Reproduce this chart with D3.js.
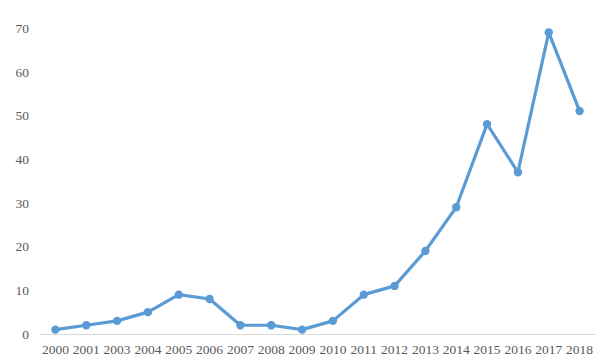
<!DOCTYPE html>
<html>
<head>
<meta charset="utf-8">
<script src="https://cdn.jsdelivr.net/npm/d3@7"></script>
<style>
  body { margin: 0; background: #fff; }
</style>
</head>
<body>
<div class="chart"></div>
<script>
// data (note: no 2002)
const years = ["2000","2001","2003","2004","2005","2006","2007","2008","2009","2010","2011","2012","2013","2014","2015","2016","2017","2018"];
const counts = [1, 2, 3, 5, 9, 8, 2, 2, 1, 3, 9, 11, 19, 29, 48, 37, 69, 51];
const yTicks = [0, 10, 20, 30, 40, 50, 60, 70];

const margin = {top: 28, right: 9, bottom: 28, left: 40};
const width = 604 - margin.left - margin.right,
      height = 362 - margin.top - margin.bottom;

const svg = d3.select(".chart").append("svg")
    .attr("width", 604)
    .attr("height", 362)
  .append("g")
    .attr("transform", "translate(" + margin.left + "," + margin.top + ")");

const xScale = d3.scaleBand().domain(years).range([0, width]);
const yScale = d3.scaleLinear().domain([0, 70]).range([height, 0]);

const serif = "'Liberation Serif', 'Times New Roman', serif";

// x axis: light line, no ticks
const xAxisSVG = svg.append("g")
    .attr("class", "axis x-axis")
    .attr("transform", `translate(0, ${height})`)
    .call(d3.axisBottom(xScale).tickSize(0).tickPadding(10));
xAxisSVG.select(".domain").attr("stroke", "#d9d9d9").attr("stroke-width", 1);

// y axis: labels only
const yAxisSVG = svg.append("g")
    .attr("class", "axis y-axis")
    .call(d3.axisLeft(yScale).tickValues(yTicks).tickSize(0).tickPadding(11));
yAxisSVG.select(".domain").remove();

svg.selectAll(".axis text")
    .attr("font-family", serif)
    .attr("font-size", 13.5)
    .attr("fill", "#595959");

const pts = years.map((y, i) => ({year: y, value: counts[i]}));

const line = d3.line()
    .x(d => xScale(d.year) + xScale.bandwidth() / 2)
    .y(d => yScale(d.value));

svg.append("path")
    .datum(pts)
    .attr("fill", "none")
    .attr("stroke", "#5b9bd5")
    .attr("stroke-width", 3.2)
    .attr("stroke-linejoin", "round")
    .attr("d", line);

svg.selectAll(".dot")
    .data(pts)
    .join("circle")
    .attr("class", "dot")
    .attr("cx", d => xScale(d.year) + xScale.bandwidth() / 2)
    .attr("cy", d => yScale(d.value))
    .attr("r", 4.2)
    .attr("fill", "#5b9bd5");
</script>
</body>
</html>
